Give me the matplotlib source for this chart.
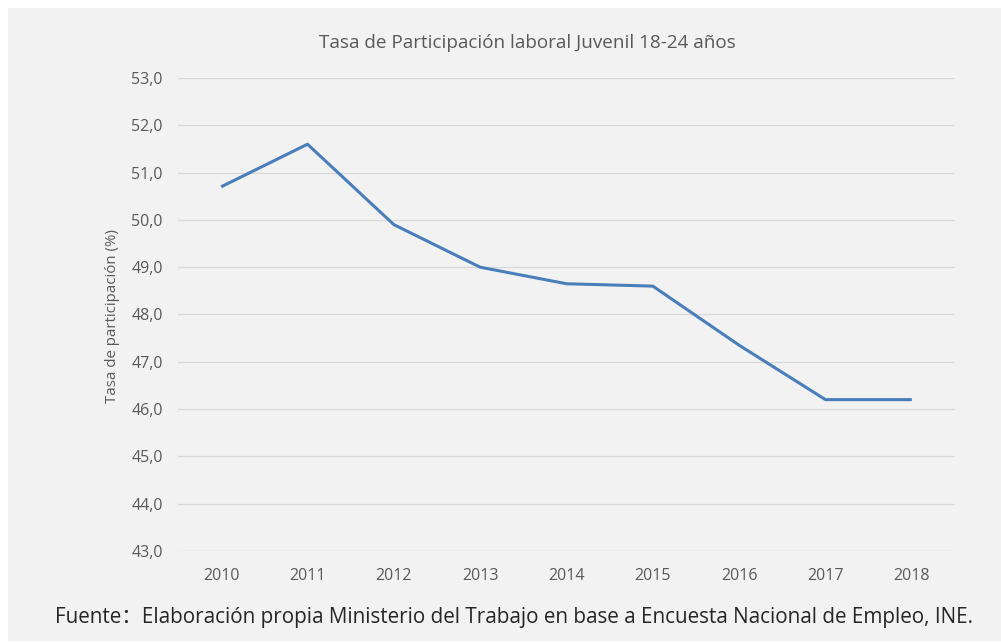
import matplotlib
matplotlib.use("Agg")
import matplotlib.pyplot as plt
from matplotlib.patches import Rectangle

years = ["2010", "2011", "2012", "2013", "2014", "2015", "2016", "2017", "2018"]
tasa = [50.7, 51.6, 49.9, 49.0, 48.65, 48.6, 47.35, 46.2, 46.2]
yticks = [43, 44, 45, 46, 47, 48, 49, 50, 51, 52, 53]
ytick_labels = [f"{v:.1f}".replace(".", ",") for v in yticks]

title = "Tasa de Participación laboral Juvenil 18-24 años"
ylabel = "Tasa de participación (%)"
source = "Fuente：Elaboración propia Ministerio del Trabajo en base a Encuesta Nacional de Empleo, INE."

plt.rcParams['font.family'] = ['Open Sans', 'Noto Sans CJK SC', 'DejaVu Sans']

W, H = 1001, 643
fig = plt.figure(figsize=(W / 100, H / 100), dpi=100)
fig.patch.set_facecolor("white")
fig.patches.append(Rectangle((8 / W, 2 / H), (W - 8) / W, (H - 10) / H,
                             transform=fig.transFigure, facecolor="#f2f2f2",
                             edgecolor="none", zorder=0))

ax = fig.add_axes([178 / W, 1 - 551 / H, (955 - 178) / W, (551 - 78) / H])
ax.set_zorder(2)
ax.set_facecolor("none")
x = list(range(len(years)))
ax.plot(x, tasa, color="#4a7ebb", linewidth=2.2, solid_capstyle="butt", zorder=3)

ax.set_xlim(-0.5, len(years) - 0.5)
ax.set_ylim(43, 53)
ax.set_yticks(yticks)
ax.set_yticklabels(ytick_labels)
ax.set_xticks(x)
ax.set_xticklabels(years)
ax.grid(axis="y", color="#d9d9d9", linewidth=1.0)
ax.set_axisbelow(True)
for s in ax.spines.values():
    s.set_visible(False)
ax.tick_params(axis="both", length=0, labelsize=11.5, labelcolor="#595959")
ax.tick_params(axis="y", pad=11)
ax.tick_params(axis="x", pad=12)

fig.text(113 / W, 1 - 316 / H, ylabel, rotation=90, ha="center", va="center",
         fontsize=10.8, color="#595959")
fig.text(527 / W, 1 - 43 / H, title, ha="center", va="center", fontsize=13.6, color="#595959")
fig.text(55 / W, 1 - 617 / H, source, ha="left", va="center", fontsize=14.9, color="#262626")

fig.savefig("out.png", dpi=100)
